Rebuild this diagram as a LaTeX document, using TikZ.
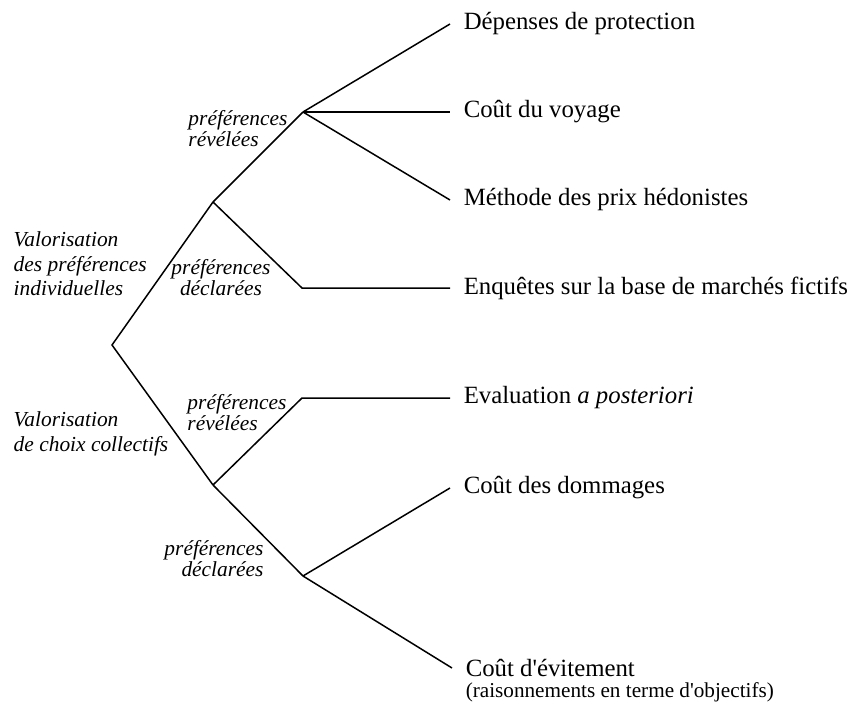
\documentclass[tikz,border=0pt]{standalone}
\usepackage{fontspec}
\setmainfont{Liberation Serif}[ItalicFont={Liberation Serif Italic}]

\begin{document}
\begin{tikzpicture}[x=0.5pt, y=-0.5pt, line width=0.75pt,
  every node/.style={font=\fontsize{12.4}{15}\selectfont},
  leaf/.style={anchor=west, inner xsep=6.5pt, inner ysep=0pt},
  note/.style={anchor=base west, inner xsep=6.5pt, inner ysep=0pt, font=\fontsize{10.6}{12}\selectfont},
  pref/.style={inner sep=0pt, font=\fontsize{10.7}{10.5}\selectfont\itshape},
  valor/.style={anchor=west, align=left, inner sep=0pt, font=\fontsize{10.7}{12.2}\selectfont\itshape}]
  \useasboundingbox (0,0) rectangle (852,702);

  % Define branching points
  \coordinate (root) at (112,345);     % Valorisation
  \coordinate (indiv) at (213,202);    % Preferences individuelles
  \coordinate (collec) at (213,485);   % Choix collectifs
  \coordinate (indrev) at (303,112);
  \coordinate (inddecl) at (302,288);
  \coordinate (colrev) at (302,398);
  \coordinate (coldecl) at (303,576);

  % Methods (leaves)
  \node[leaf] (protect) at (450,24) {Dépenses de protection};
  \node[leaf] (voyage) at (450,112) {Coût du voyage};
  \node[leaf] (hedon) at (450,200) {Méthode des prix hédonistes};
  \node[leaf] (enquete) at (450,288) {Enquêtes sur la base de marchés fictifs};
  \node[leaf] (aposter) at (450,398) {Evaluation \textit{a posteriori}};
  \node[leaf] (dommage) at (450,488) {Coût des dommages};
  \node[leaf] (evit) at (452,668) {Coût d\textquotesingle évitement};
  \node[note] (evitnote) at (452,697) {(raisonnements en terme d\textquotesingle objectifs)};

  % Tree
  \draw (indiv) -- (root) -- (collec);
  \draw (indiv) -- (indrev);
  \draw (indiv) -- (inddecl) -- (enquete.west);
  \draw (collec) -- (colrev) -- (aposter.west);
  \draw (collec) -- (coldecl);
  \draw (indrev) -- (protect.west);
  \draw (indrev) -- (voyage.west);
  \draw (indrev) -- (hedon.west);
  \draw (coldecl) -- (dommage.west);
  \draw (coldecl) -- (evit.west);

  % Branch labels
  \node[valor] (valind) at (13,264) {Valorisation\\des préférences\\individuelles};
  \node[valor] (valcol) at (13,434) {Valorisation\\de choix collectifs};
  \node[pref, align=left] (lblindrev) at (238,129) {préférences\\révélées};
  \node[pref, align=center] (lblinddecl) at (221,278) {préférences\\déclarées};
  \node[pref, align=left] (lblcolrev) at (237,413) {préférences\\révélées};
  \node[pref, align=right] (lblcoldecl) at (214,559) {préférences\\déclarées};
\end{tikzpicture}
\end{document}
